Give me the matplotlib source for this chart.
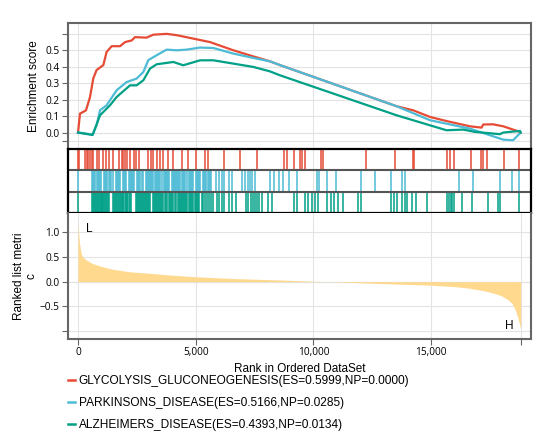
import matplotlib
matplotlib.use("Agg")
import matplotlib.pyplot as plt
from matplotlib.lines import Line2D

N_GENES = 18800

# running enrichment score curves (rank, ES)
red_rank = [0, 85, 340, 510, 650, 790, 1075, 1215, 1430, 1785, 2000, 2280, 2420, 2910,
            3200, 3765, 4190, 4900, 5605, 6600, 7400, 8150, 8580, 13530, 14240, 14950,
            15650, 16645, 17140, 17210, 17635, 18060, 18770, 18800]
red_es = [0, 0.115, 0.135, 0.216, 0.33, 0.38, 0.41, 0.49, 0.525, 0.525, 0.55, 0.56, 0.58, 0.577,
          0.595, 0.5999, 0.592, 0.571, 0.55, 0.50, 0.465, 0.433, 0.41, 0.16, 0.135, 0.095,
          0.07, 0.038, 0.03, 0.049, 0.05, 0.038, 0.004, 0]

blue_rank = [0, 620, 790, 935, 1215, 1640, 2065, 2490, 2775, 2985, 3340, 3765, 4190, 4610,
             5180, 5745, 6600, 7400, 8150, 8580, 13530, 14950, 16645, 18060, 18480, 18800]
blue_es = [0, -0.012, 0.044, 0.135, 0.166, 0.257, 0.307, 0.328, 0.368, 0.44, 0.47, 0.504, 0.5,
           0.504, 0.5166, 0.514, 0.48, 0.455, 0.433, 0.41, 0.16, 0.075, 0.024, -0.043, -0.047, 0]

green_rank = [0, 620, 935, 1360, 1640, 2210, 2490, 2775, 3060, 3340, 4050, 4470, 5180, 5745,
              6600, 7445, 8150, 8580, 13530, 14950, 15650, 16360, 16860, 17920, 18060, 18770, 18800]
green_es = [0, -0.015, 0.105, 0.166, 0.216, 0.287, 0.287, 0.318, 0.389, 0.415, 0.429, 0.409,
            0.439, 0.4393, 0.419, 0.399, 0.372, 0.348, 0.105, 0.044, 0.014, 0.018, 0.004,
            -0.01, 0.0, 0.01, 0]

# gene hit positions
red_hits = [20, 50, 305, 373, 445, 517, 585, 657, 797, 911, 1080, 1195, 1335, 1504, 1758, 1856,
            1928, 2013, 2097, 2212, 2381, 2466, 2606, 2987, 3085, 3200, 3339, 3483, 3623, 3835,
            4046, 4398, 4652, 5008, 5402, 5500, 6207, 6872, 7618, 8750, 8889, 9173, 9428, 9525,
            9640, 10317, 10415, 12253, 13453, 14228, 14270, 15656, 15796, 15966, 16703, 17097,
            17181, 17351, 18084, 18720]

blue_hits = [0, 600, 640, 690, 740, 790, 830, 880, 930, 970, 1100, 1150, 1200, 1240, 1330, 1380,
             1420, 1470, 1600, 1640, 1690, 1730, 1780, 1900, 1950, 2000, 2050, 2170, 2220, 2260,
             2300, 2340, 2390, 2510, 2560, 2600, 2650, 2700, 2740, 2870, 2910, 2960, 3000, 3050,
             3100, 3140, 3190, 3280, 3320, 3370, 3410, 3460, 3500, 3550, 3650, 3700, 3740, 3790,
             3830, 3880, 3980, 4020, 4070, 4120, 4160, 4210, 4260, 4300, 4350, 4400, 4450, 4500,
             4560, 4610, 4700, 4750, 4800, 4850, 4900, 5000, 5050, 5100, 5150, 5200, 5300, 5350,
             5400, 5450, 5500, 5550, 5600, 5650, 5880, 5970, 6110, 6210, 6420, 6560, 6980, 7100,
             7200, 7310, 7410, 7520, 8170, 8330, 8540, 8690, 8960, 9300, 10130, 10230, 10560,
             10940, 12010, 12600, 13310, 13760, 13880, 16180, 16790, 17940, 18440, 18720]

green_hits = [0, 600, 640, 680, 720, 760, 800, 840, 880, 920, 960, 1000, 1040, 1080, 1120, 1160,
              1200, 1240, 1280, 1320, 1470, 1510, 1560, 1600, 1640, 1680, 1720, 1770, 1810, 1850,
              1890, 1930, 1980, 2020, 2060, 2100, 2150, 2200, 2240, 2480, 2520, 2560, 2600, 2640,
              2680, 2720, 2760, 2800, 2850, 2890, 2930, 2970, 3010, 3050, 3200, 3240, 3280, 3320,
              3360, 3400, 3450, 3490, 3530, 3580, 3620, 3700, 3750, 3800, 3850, 3900, 3950, 4000,
              4050, 4130, 4180, 4230, 4280, 4330, 4380, 4430, 4470, 4520, 4560, 4600, 4650, 4700,
              4740, 4800, 4850, 4890, 4950, 5000, 5050, 5100, 5150, 5250, 5330, 5400, 5480, 5560,
              5640, 5720, 5900, 6000, 6110, 6210, 6400, 6560, 6700, 7140, 7230, 7330, 7420, 7500,
              7590, 7690, 7800, 8080, 8230, 9170, 9290, 9640, 9780, 9920, 10060, 10180, 10560,
              10740, 10880, 11050, 11260, 11900, 12040, 13310, 13420, 13530, 13760, 13880, 13990,
              14200, 14340, 14840, 15690, 15750, 15830, 15900, 15990, 16320, 16750, 17400, 17830,
              17910, 18720]

# ranked list metric
metric_rank = [0, 20, 40, 64, 100, 135, 200, 350, 600, 910, 1300, 1620, 2200, 3030, 4000, 5000,
               6500, 8540, 10000, 11500, 13000, 14960, 16000, 16590, 17200, 17720, 18000, 18280,
               18450, 18570, 18680, 18750, 18800]
metric_val = [1.18, 1.05, 0.9, 0.78, 0.66, 0.57, 0.5, 0.44, 0.37, 0.32, 0.27, 0.24, 0.2, 0.17,
              0.13, 0.10, 0.065, 0.035, 0.01, -0.015, -0.04, -0.07, -0.1, -0.13, -0.18, -0.24,
              -0.29, -0.37, -0.45, -0.57, -0.72, -0.85, -0.96]

labels = ["GLYCOLYSIS_GLUCONEOGENESIS(ES=0.5999,NP=0.0000)",
          "PARKINSONS_DISEASE(ES=0.5166,NP=0.0285)",
          "ALZHEIMERS_DISEASE(ES=0.4393,NP=0.0134)"]
colors = ["#E64B35", "#4DBBD5", "#00A087"]

plt.rcParams['font.family'] = ['Liberation Sans', 'DejaVu Sans']

fig = plt.figure(figsize=(5.53, 4.37), dpi=100)
W, H = 553, 437
def box(x0, y0, x1, y1):
    return [x0 / W, 1 - y1 / H, (x1 - x0) / W, (y1 - y0) / H]

ax1 = fig.add_axes(box(68, 23, 531, 149))
ax2 = fig.add_axes(box(68, 149, 531, 213))
ax3 = fig.add_axes(box(68, 213, 531, 339))

xlim = (-425, 19240)
grid_c = "#e3e3e3"
spine_c = "#666666"
tick_font = dict(family=['Open Sans', 'DejaVu Sans'], size=7.3)

# --- top: running ES
for r, e, c in zip([red_rank, blue_rank, green_rank], [red_es, blue_es, green_es], colors):
    ax1.plot(r, e, color=c, lw=1.6)
ax1.axhline(0, color="#bbbbbb", lw=0.8, ls=(0, (2, 2)), zorder=0)
ax1.set_xlim(xlim)
ax1.set_ylim(-0.10, 0.666)
ax1.set_yticks([-0.05, 0.0, 0.1, 0.2, 0.3, 0.4, 0.5, 0.6])
ax1.set_yticklabels(["", "0.0", "0.1", "0.2", "0.3", "0.4", "0.5", ""], **tick_font)
ax1.set_xticks([0, 5000, 10000, 15000])
ax1.tick_params(axis='x', length=0, labelbottom=False)
ax1.tick_params(axis='y', length=4, color=spine_c, pad=2)
ax1.grid(True, color=grid_c, lw=0.8)
ax1.set_axisbelow(True)
ax1.set_ylabel("Enrichment score", fontsize=8.5, labelpad=4)
for s in ['left', 'top', 'right']:
    ax1.spines[s].set_color(spine_c)
    ax1.spines[s].set_linewidth(1.5)
ax1.spines['bottom'].set_visible(False)

# --- middle: hit bars
for row, (hits, c) in enumerate(zip([red_hits, blue_hits, green_hits], colors)):
    y0 = 2 - row
    ax2.vlines(hits, y0, y0 + 1, color=c, lw=1.1)
ax2.set_xlim(xlim)
ax2.set_ylim(0, 3)
ax2.set_xticks([0, 5000, 10000, 15000])
ax2.set_yticks([])
ax2.tick_params(axis='x', length=0, labelbottom=False)
ax2.grid(True, axis='x', color=grid_c, lw=0.8)
ax2.set_axisbelow(True)
for y in [1, 2]:
    ax2.axhline(y, color="#555555", lw=1.5)
for s in ax2.spines.values():
    s.set_color("black")
    s.set_linewidth(1.6)

# --- bottom: ranked list metric
ax3.fill_between(metric_rank, 0, metric_val, color="#FED98E", lw=0)
ax3.axhline(0, color="#bbbbbb", lw=0.8, ls=(0, (2, 2)), zorder=0)
ax3.set_xlim(xlim)
ax3.set_ylim(-1.16, 1.39)
ax3.set_yticks([-1.0, -0.5, 0.0, 0.5, 1.0])
ax3.set_yticklabels(["", "\u22120.5", "0.0", "0.5", "1.0"], **tick_font)
ax3.set_xticks([0, 5000, 10000, 15000, N_GENES])
ax3.set_xticklabels(["0", "5,000", "10,000", "15,000", ""], **tick_font)
ax3.tick_params(length=4, color=spine_c, pad=2)
ax3.grid(True, color=grid_c, lw=0.8)
ax3.set_axisbelow(True)
ax3.text(350, 1.07, "L", fontsize=8.5, va='center', ha='left')
ax3.text(18300, -0.89, "H", fontsize=8.5, va='center', ha='center')
ax3.set_ylabel("Ranked list metri\nc", fontsize=8.5, labelpad=2, linespacing=1.0)
ax3.set_xlabel("Rank in Ordered DataSet", fontsize=8.5, labelpad=3)
for s in ['left', 'bottom', 'right']:
    ax3.spines[s].set_color(spine_c)
    ax3.spines[s].set_linewidth(1.5)
ax3.spines['top'].set_visible(False)

handles = [Line2D([], [], color=c, lw=1.8) for c in colors]
fig.legend(handles, labels, loc='upper left', bbox_to_anchor=(68 / W, 1 - 375 / H),
           frameon=False, fontsize=8.6, handlelength=0.55, handletextpad=0.35,
           labelspacing=0.85, borderpad=0, borderaxespad=0)

fig.savefig("out.png", dpi=100)
